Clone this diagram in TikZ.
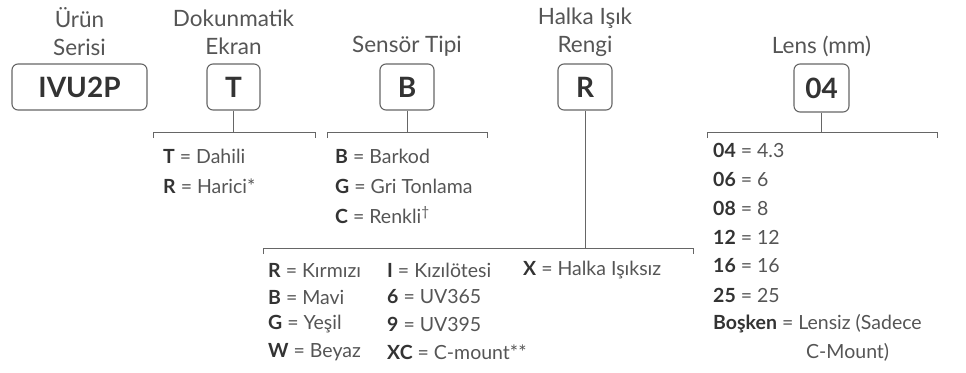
\documentclass[tikz,border=0pt]{standalone}
\usepackage{fontspec}
\setmainfont{Lato}
\usetikzlibrary{positioning}
\definecolor{textgray}{HTML}{555555}
\definecolor{codegray}{HTML}{333333}
\definecolor{linegray}{HTML}{666666}
\tikzset{%
    codebox/.style={draw=linegray,line width=1.1pt,rounded corners=6pt,inner sep=0pt,minimum height=46pt,text=codegray,font=\fontsize{28}{32}\selectfont\bfseries},
    header/.style={text=textgray,font=\fontsize{22.5}{28}\selectfont,align=center,inner sep=0pt},
    item/.style={text=textgray,font=\fontsize{19.5}{22}\selectfont,anchor=west,inner sep=0pt},
    bracket/.style={draw=linegray,line width=0.9pt},
}
\newcommand{\code}[1]{\textcolor{codegray}{\textbf{#1}}}

\begin{document}
\begin{tikzpicture}[x=1pt,y=-1pt]
        \useasboundingbox (0,0) rectangle (966,372);

        % code boxes
        \node [codebox,minimum width=135pt] (seri) at (79.5,87) {IVU2P};
        \node [codebox,minimum width=53pt] (ekran) at (233.5,87) {T};
        \node [codebox,minimum width=54pt] (sensor) at (407,87) {B};
        \node [codebox,minimum width=54pt] (halka) at (585,87) {R};
        \node [codebox,minimum width=55pt,minimum height=48pt] (lens) at (821.5,88) {04};

        % headers
        \node [header] (hseri) at (79.5,32) {Ürün\\Serisi};
        \node [header] (hekran) at (233.5,32) {Dokunmatik\\Ekran};
        \node [header] (hsensor) at (407,46) {Sensör Tipi};
        \node [header] (hhalka) at (585,32) {Halka Işık\\Rengi};
        \node [header] (hlens) at (821.5,46) {Lens (mm)};

        % brackets
        \coordinate (bekran) at (233.5,132);
        \draw [bracket] (153,138) |- (315,132) -- (315,138);
        \draw [bracket] (ekran.south) -- (bekran);

        \coordinate (bsensor) at (407,132);
        \draw [bracket] (327,138) |- (487,132) -- (487,138);
        \draw [bracket] (sensor.south) -- (bsensor);

        \coordinate (bhalka) at (585,248);
        \draw [bracket] (263,254) |- (693,248) -- (693,254);
        \draw [bracket] (halka.south) -- (bhalka);

        \coordinate (blens) at (821.5,132);
        \draw [bracket] (707,138) |- (937,132) -- (937,138);
        \draw [bracket] (lens.south) -- (blens);

        % touch screen
        \node [item] (e1) at (163,156) {\code{T} = Dahili};
        \node [item] (e2) at (163,186) {\code{R} = Harici*};

        % sensor type
        \node [item] (s1) at (335,156) {\code{B} = Barkod};
        \node [item] (s2) at (335,186) {\code{G} = Gri Tonlama};
        \node [item] (s3) at (335,215) {\code{C} = Renkli\textsuperscript{†}};

        % ring light
        \node [item] (r1) at (268,270) {\code{R} = Kırmızı};
        \node [item] (r2) at (268,297) {\code{B} = Mavi};
        \node [item] (r3) at (268,324) {\code{G} = Yeşil};
        \node [item] (r4) at (268,352) {\code{W} = Beyaz};
        \node [item] (r5) at (387,270) {\code{I} = Kızılötesi};
        \node [item] (r6) at (387,297) {\code{6} = UV365};
        \node [item] (r7) at (387,324) {\code{9} = UV395};
        \node [item] (r8) at (387,352) {\code{XC} = C-mount**};
        \node [item] (r9) at (523,270) {\code{X} = Halka Işıksız};

        % lens
        \node [item] (l1) at (713,150) {\code{04} = 4.3};
        \node [item] (l2) at (713,179) {\code{06} = 6};
        \node [item] (l3) at (713,208) {\code{08} = 8};
        \node [item] (l4) at (713,237) {\code{12} = 12};
        \node [item] (l5) at (713,266) {\code{16} = 16};
        \node [item] (l6) at (713,295) {\code{25} = 25};
        \node [item] (l7) at (713,324) {\code{Boşken} = Lensiz (Sadece};
        \node [item] (l8) at (l7.west |- 0,352) [xshift=93pt] {C-Mount)};
    \end{tikzpicture}
\end{document}
